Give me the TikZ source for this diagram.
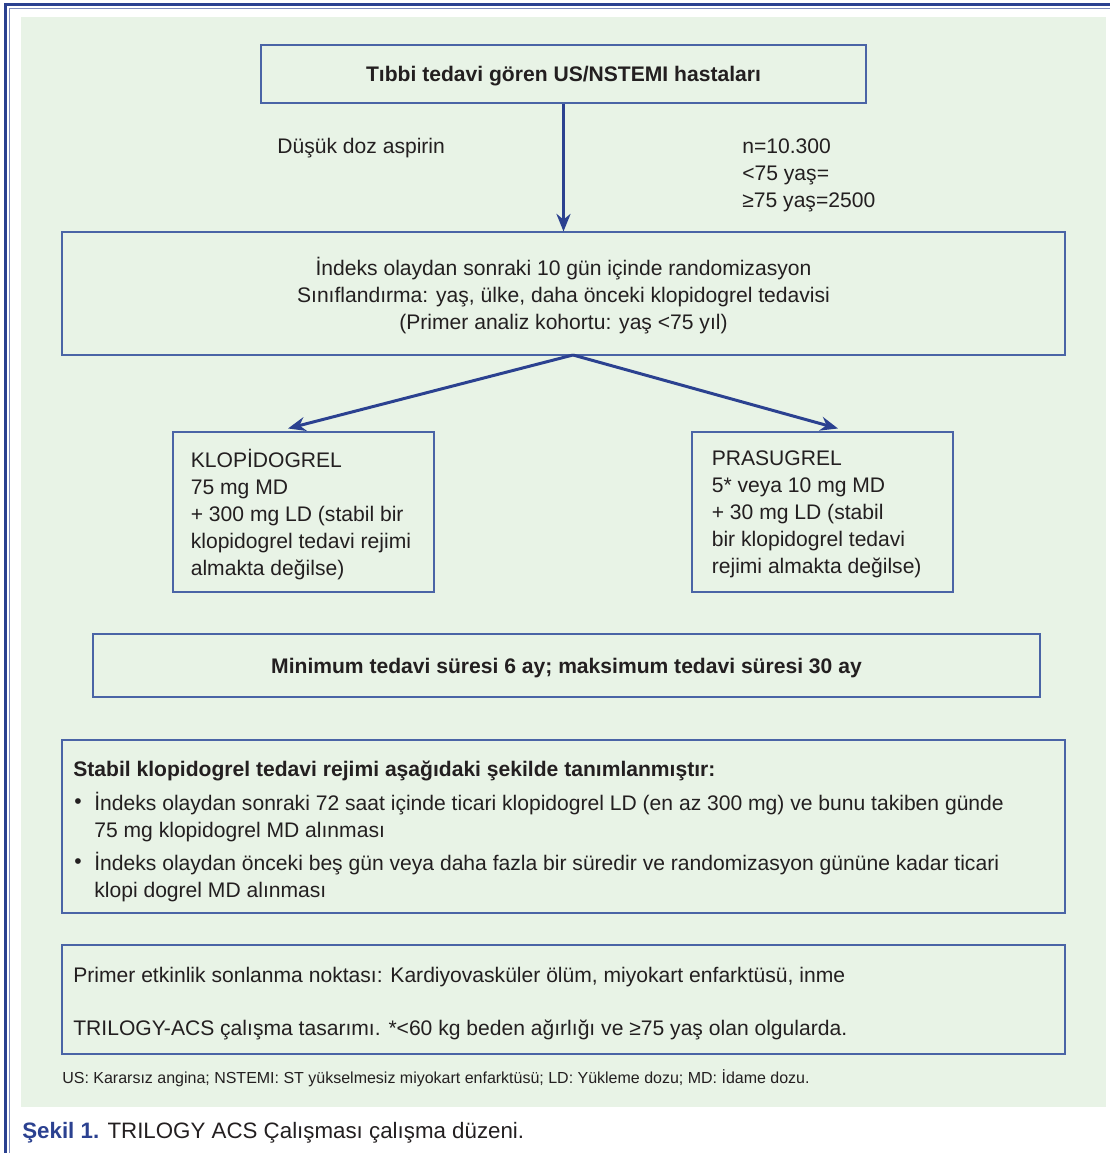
\documentclass[tikz,border=0pt]{standalone}
\usepackage{fontspec}
\setmainfont{Liberation Sans}
\usetikzlibrary{arrows.meta,positioning}
\definecolor{frameblue}{HTML}{2B4190}
\definecolor{boxblue}{HTML}{4A64A6}
\definecolor{panelgreen}{HTML}{E8F3E6}
\definecolor{inktext}{HTML}{231F20}

\begin{document}
\begin{tikzpicture}[x=0.02cm,y=-0.02cm,
    box/.style={draw=boxblue, line width=0.6pt, inner sep=0pt},
    body/.style={text=inktext, inner sep=0pt, align=left, yshift=-0.05cm, font=\fontsize{12}{15.4}\selectfont},
    arr/.style={draw=frameblue, line width=1.7pt, -{Stealth[length=10pt,width=8pt]}}]
    \useasboundingbox (0,0) rectangle (1110,1153);

    % panel and frame
    \fill[panelgreen] (21,17) rectangle (1106,1107);
    \draw[frameblue, line width=1.8pt] (5.5,1153) -- (5.5,4.5) -- (1110,4.5);
    \draw[frameblue!60, line width=0.6pt] (9.5,1153) -- (9.5,8.5) -- (1110,8.5);

    % boxes
    \node[box, minimum width=605*0.02cm, minimum height=58*0.02cm, text=inktext, text height=1em, text depth=0.2em,
          font=\fontsize{12}{15.4}\selectfont\bfseries] (patients) at (563.5,74)
        {Tıbbi tedavi gören US/NSTEMI hastaları};
    \node[box, minimum width=1003*0.02cm, minimum height=123*0.02cm] (random) at (563.5,293.5) {};
    \node[box, minimum width=261*0.02cm, minimum height=160*0.02cm] (clopi) at (303.5,512) {};
    \node[box, minimum width=261*0.02cm, minimum height=160*0.02cm] (prasu) at (822.5,512) {};
    \node[box, minimum width=947*0.02cm, minimum height=63*0.02cm, text=inktext, text height=1.15em, text depth=0.2em,
          font=\fontsize{12}{15.4}\selectfont\bfseries] (duration) at (566.5,665.5)
        {Minimum tedavi süresi 6 ay; maksimum tedavi süresi 30 ay};
    \node[box, minimum width=1003*0.02cm, minimum height=173*0.02cm] (stable) at (563.5,826.5) {};
    \node[box, minimum width=1003*0.02cm, minimum height=109*0.02cm] (endpoint) at (563.5,999.5) {};

    % texts
    \node[body, align=center] (random text) at (563.5,293)
        {İndeks olaydan sonraki 10 gün içinde randomizasyon\\
         Sınıflandırma: yaş, ülke, daha önceki klopidogrel tedavisi\\
         (Primer analiz kohortu: yaş <75 yıl)};
    \node[body, anchor=west] (aspirin) at (277,146) {Düşük doz aspirin};
    \node[body, anchor=west] (count) at (742,173) {n=10.300\\<75 yaş=\\≥75 yaş=2500};
    \node[body, anchor=west, right=0.36cm of clopi.west] (clopi text)
        {KLOPİDOGREL\\75 mg MD\\+ 300 mg LD (stabil bir\\klopidogrel tedavi rejimi\\almakta değilse)};
    \node[body, anchor=west, right=0.4cm of prasu.west] (prasu text)
        {PRASUGREL\\5* veya 10 mg MD\\+ 30 mg LD (stabil\\bir klopidogrel tedavi\\rejimi almakta değilse)};
    \node[body, anchor=west, font=\fontsize{12}{15.4}\selectfont\bfseries] (stable title) at (73,768)
        {Stabil klopidogrel tedavi rejimi aşağıdaki şekilde tanımlanmıştır:};
    \node[body, anchor=west] (bullet one) at (74,801) {•};
    \node[body, anchor=west] (bullet two) at (74,861) {•};
    \node[body, anchor=west] (stable one) at (94,814.5)
        {İndeks olaydan sonraki 72 saat içinde ticari klopidogrel LD (en az 300 mg) ve bunu takiben günde\\75 mg klopidogrel MD alınması};
    \node[body, anchor=west] (stable two) at (94,874.5)
        {İndeks olaydan önceki beş gün veya daha fazla bir süredir ve randomizasyon gününe kadar ticari\\klopi dogrel MD alınması};
    \node[body, anchor=west] (endpoint one) at (73,975)
        {Primer etkinlik sonlanma noktası: Kardiyovasküler ölüm, miyokart enfarktüsü, inme};
    \node[body, anchor=west] (endpoint two) at (73,1027)
        {TRILOGY-ACS çalışma tasarımı. *<60 kg beden ağırlığı ve ≥75 yaş olan olgularda.};
    \node[body, anchor=west, font=\fontsize{9.1}{11}\selectfont] (abbrev) at (62,1076)
        {US: Kararsız angina; NSTEMI: ST yükselmesiz miyokart enfarktüsü; LD: Yükleme dozu; MD: İdame dozu.};
    \node[body, anchor=west, font=\fontsize{12.7}{15}\selectfont] (caption) at (22,1130)
        {\textcolor{frameblue}{\bfseries Şekil 1.} TRILOGY ACS Çalışması çalışma düzeni.};

    % arrows
    \coordinate (split) at (573,355);
    \draw[arr] (patients) -- (random);
    \draw[arr] (split) -- ([xshift=-0.31cm,yshift=0.06cm]clopi.north);
    \draw[arr] (split) -- ([xshift=0.31cm,yshift=0.06cm]prasu.north);
\end{tikzpicture}
\end{document}
